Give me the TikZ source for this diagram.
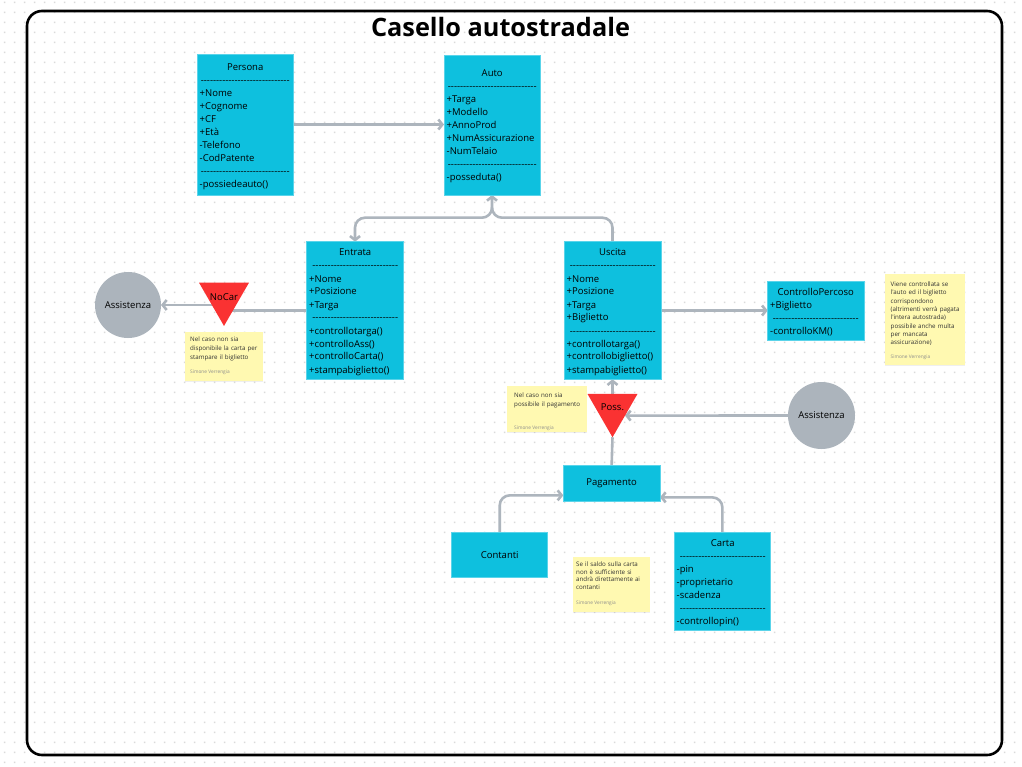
\documentclass[tikz,border=0pt]{standalone}
\usepackage{fontspec}
\setmainfont{Open Sans}[Ligatures=TeXOff]
\usetikzlibrary{arrows.meta,shapes.geometric,shadows,patterns}
\definecolor{boxcyan}{RGB}{14,192,222}
\definecolor{boxedge}{RGB}{90,212,234}
\definecolor{conngray}{RGB}{173,181,189}
\definecolor{circgray}{RGB}{172,180,188}
\definecolor{trired}{RGB}{250,50,50}
\definecolor{stickyyel}{RGB}{255,249,177}
\definecolor{stickyink}{RGB}{50,50,50}
\definecolor{dotgray}{RGB}{218,218,218}
\definecolor{authorgray}{RGB}{140,140,140}

\ExplSyntaxOn
\NewDocumentCommand\dashrow{m}{\prg_replicate:nn{#1}{-}}
\ExplSyntaxOff

\pgfdeclarepatternformonly{gridDots}{\pgfpointorigin}{\pgfpoint{9.6pt}{9.6pt}}{\pgfpoint{9.6pt}{9.6pt}}{\pgfpathrectangle{\pgfpoint{4pt}{4pt}}{\pgfpoint{1.6pt}{1.6pt}}\pgfusepath{fill}}

\pgfdeclarelayer{bg}
\pgfdeclarelayer{lines}
\pgfsetlayers{bg,lines,main}

\begin{document}
\begin{tikzpicture}[x=1pt,y=-1pt,
  cls/.style={rectangle, fill=boxcyan, draw=boxedge, line width=0.8pt, inner sep=0pt, outer sep=0pt, anchor=north west, font=\fontsize{9.5}{12}\selectfont},
  clstext/.style={anchor=base west, inner sep=0pt, align=left, font=\fontsize{9.5}{13}\selectfont},
  conn/.style={draw=conngray, line width=2.6pt},
  arr/.style={-{Straight Barb[length=4pt,width=10pt]}},
  sticky/.style={rectangle, fill=stickyyel, inner sep=0pt, outer sep=0pt, anchor=north west, drop shadow={shadow xshift=0pt, shadow yshift=-1.2pt, opacity=0.12}},
  stickytext/.style={anchor=base west, inner sep=0pt, align=left, text width=74pt, text=stickyink},
  author/.style={anchor=base west, inner sep=0pt, font=\fontsize{4.8}{6}\selectfont, text=authorgray},
  assist/.style={circle, fill=circgray, inner sep=0pt, outer sep=0pt, font=\fontsize{9.5}{12}\selectfont},
  warn/.style={regular polygon, regular polygon sides=3, shape border rotate=180, fill=trired, inner sep=0pt, outer sep=0pt, minimum size=57.7pt},
  warntext/.style={inner sep=0pt, font=\fontsize{9.5}{12}\selectfont},
]
\useasboundingbox (0,0) rectangle (1022,767);
\begin{pgfonlayer}{bg}
\fill[white] (0,0) rectangle (1022,767);
\fill[pattern=gridDots, pattern color=dotgray] (0,0) rectangle (1022,767);
\node[draw=black, line width=2.6pt, rounded corners=15pt, minimum width=975pt, minimum height=744pt, anchor=north west, inner sep=0pt, outer sep=0pt] (frame) at (27,11) {};
\end{pgfonlayer}

\node[anchor=base, inner sep=0pt, font=\fontsize{25.3}{30}\selectfont\bfseries] (title) at (500.5,36.3) {Casello autostradale};

% class boxes
\node[cls, minimum width=96pt, minimum height=141pt] (persona) at (197,54) {};
\node[clstext, text width=91pt] (personaT) at (199.5,70.3) {\makebox[\linewidth]{Persona}\\
\makebox[\linewidth]{\dashrow{29}}\\
+Nome\\+Cognome\\+CF\\+Età\\-Telefono\\-CodPatente\\
\makebox[\linewidth]{\dashrow{29}}\\
-possiedeauto()};

\node[cls, minimum width=96pt, minimum height=140pt] (auto) at (444,55) {};
\node[clstext, text width=91pt] (autoT) at (446.5,77) {\makebox[\linewidth]{Auto}\\
\makebox[\linewidth]{\dashrow{29}}\\
+Targa\\+Modello\\+AnnoProd\\+NumAssicurazione\\-NumTelaio\\
\makebox[\linewidth]{\dashrow{29}}\\
-posseduta()};

\node[cls, minimum width=97pt, minimum height=137.6pt] (entrata) at (306.5,241.7) {};
\node[clstext, text width=92pt] (entrataT) at (309,256) {\makebox[\linewidth]{Entrata}\\
\makebox[\linewidth]{\dashrow{28}}\\
+Nome\\+Posizione\\+Targa\\
\makebox[\linewidth]{\dashrow{28}}\\
+controllotarga()\\+controlloAss()\\+controlloCarta()\\+stampabiglietto()};

\node[cls, minimum width=97pt, minimum height=137.6pt] (uscita) at (564,241.7) {};
\node[clstext, text width=92pt] (uscitaT) at (566.5,256) {\makebox[\linewidth]{Uscita}\\
\makebox[\linewidth]{\dashrow{28}}\\
+Nome\\+Posizione\\+Targa\\+Biglietto\\
\makebox[\linewidth]{\dashrow{28}}\\
+controllotarga()\\+controllobiglietto()\\+stampabiglietto()};

\node[cls, minimum width=96.3pt, minimum height=59pt] (cp) at (767.7,281) {};
\node[clstext, text width=91pt] (cpT) at (770,295) {\makebox[\linewidth]{ControlloPercoso}\\
+Biglietto\\
\makebox[\linewidth]{\dashrow{28}}\\
-controlloKM()};

\node[cls, minimum width=96.7pt, minimum height=36.7pt] (pagamento) at (563.3,465) {Pagamento};
\node[cls, minimum width=96pt, minimum height=45.7pt] (contanti) at (451.7,532) {Contanti};

\node[cls, minimum width=96.7pt, minimum height=98pt] (carta) at (674,532) {};
\node[clstext, text width=92pt] (cartaT) at (676.5,546) {\makebox[\linewidth]{Carta}\\
\makebox[\linewidth]{\dashrow{28}}\\
-pin\\-proprietario\\-scadenza\\
\makebox[\linewidth]{\dashrow{28}}\\
-controllopin()};

% sticky notes
\node[sticky, minimum width=78pt, minimum height=49pt] (sNoCar) at (185,331.5) {};
\node[stickytext, font=\fontsize{6.2}{9}\selectfont] (tNoCar) at (190,341.5) {Nel caso non sia\\disponibile la carta per\\stampare il biglietto};
\node[author] (aNoCar) at (190,373) {Simone Verrengia};

\node[sticky, minimum width=80pt, minimum height=91pt] (sCP) at (885,274) {};
\node[stickytext, font=\fontsize{6.2}{8.3}\selectfont] (tCP) at (890.5,286.6) {Viene controllata se\\l'auto ed il biglietto\\corrispondono\\(altrimenti verrà pagata\\l'intera autostrada)\\possibile anche multa\\per mancata\\assicurazione)};
\node[author] (aCP) at (890.5,358.5) {Simone Verrengia};

\node[sticky, minimum width=80pt, minimum height=46pt] (sPoss) at (507.3,385.7) {};
\node[stickytext, font=\fontsize{6.2}{9}\selectfont] (tPoss) at (514,397.3) {Nel caso non sia\\possibile il pagamento};
\node[author] (aPoss) at (514,429) {Simone Verrengia};

\node[sticky, minimum width=77pt, minimum height=55pt] (sCarta) at (573,557) {};
\node[stickytext, font=\fontsize{6.2}{7.6}\selectfont] (tCarta) at (576,566.6) {Se il saldo sulla carta\\non è sufficiente si\\andrà direttamente ai\\contanti};
\node[author] (aCarta) at (576,604) {Simone Verrengia};

% circles
\node[assist, minimum size=66pt] (assistL) at (128,305) {Assistenza};
\node[assist, minimum size=67pt] (assistR) at (821.5,415.5) {Assistenza};

% warning triangles
\node[warn] (nocar) at (224,297.1) {};
\node[warntext] (nocarT) at (nocar.center) {NoCar};
\node[warn] (poss) at (612.5,408.4) {};
\node[warntext] (possT) at ([yshift=1.2pt]poss.center) {Poss.};

% connectors
\begin{pgfonlayer}{lines}
\draw[conn,arr] (persona.east) -- (persona.east -| auto.west);
\path (uscita.north) ++(0,-24) coordinate (uturn);
\coordinate (junc) at (uturn -| auto.south);
\path (auto.south) ++(0,14) coordinate (fork);
\draw[conn,arr,rounded corners=10pt] (uscita.north) -- (uturn) -- (junc) -- (auto.south);
\draw[conn,arr,rounded corners=10pt] (fork) -- (junc) -- (junc -| entrata.north) -- (entrata.north);
\draw[conn] (entrata.west) -- (entrata.west -| nocar.center);
\draw[conn,arr] (nocar.center |- assistL.east) -- (assistL.east);
\draw[conn,arr] (uscita.east) -- (cp.west);
\draw[conn,arr] (poss.north) -- (uscita.south);
\draw[conn] (pagamento.north) -- (poss.south);
\draw[conn,arr] (assistR.west) -- (poss.-30);
\draw[conn,arr,rounded corners=10pt] (contanti.north) |- ([yshift=-12pt]pagamento.west);
\draw[conn,arr,rounded corners=10pt] (carta.north) |- ([yshift=-14pt]pagamento.east);
\end{pgfonlayer}
\end{tikzpicture}
\end{document}
